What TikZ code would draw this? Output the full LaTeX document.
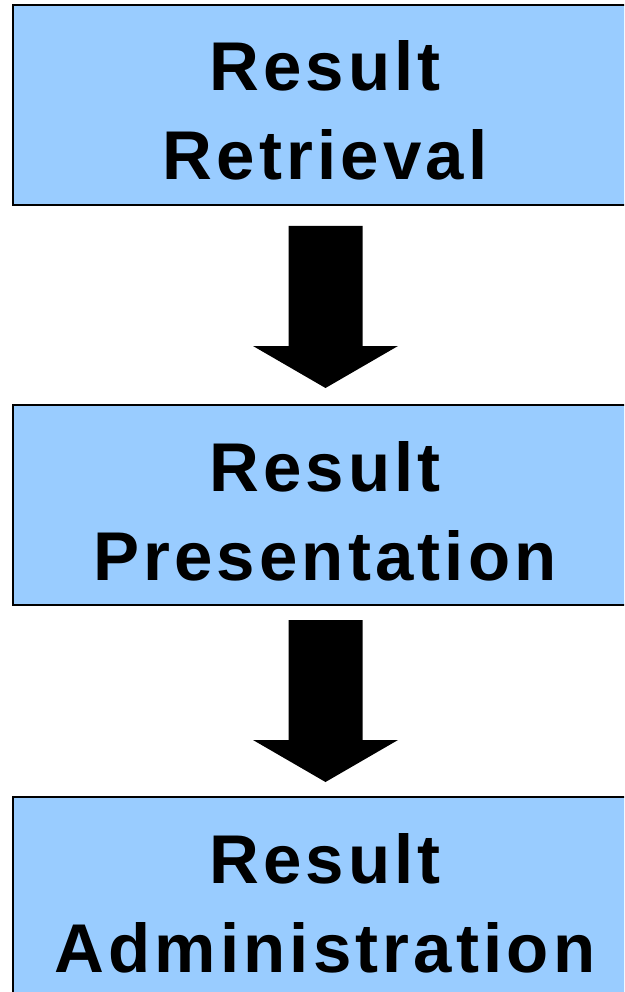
\documentclass[tikz,border=0pt]{standalone}
\usepackage{fontspec}
\setmainfont{Liberation Sans}
\newfontfamily\boxfont{Liberation Sans}[LetterSpace=6]
\usetikzlibrary{calc}
\definecolor{boxblue}{HTML}{99CCFF}
\tikzset{
  stagebox/.style={draw=black, line width=2pt, fill=boxblue, minimum width=624pt, minimum height=200pt, inner sep=0pt, outer sep=0pt},
  stagetext/.style={anchor=base, inner sep=0pt, font=\boxfont\bfseries\fontsize{69}{89}\selectfont},
  blockarrow/.style={fill=black, draw=none}
}
\newcommand{\twolines}[2]{\begin{tabular}[b]{@{}c@{}}#1\\#2\end{tabular}}
\begin{document}
\begin{tikzpicture}[x=1pt,y=-1pt]
\useasboundingbox (0,0) rectangle (624,992);
\clip (0,0) rectangle (624,992);
\node[stagebox] (b1) at (325,105) {};
\node[stagebox] (b2) at (325,505) {};
\node[stagebox] (b3) at (325,897) {};
\node[stagetext] (t1) at ($(b1.north)+(0,175)$) {\twolines{Result}{Retrieval}};
\node[stagetext] (t2) at ($(b2.north)+(0,175)$) {\twolines{Result}{Presentation}};
\node[stagetext] (t3) at ($(b3.north)+(0,175)$) {\twolines{Result}{Administration}};
% block arrows
\coordinate (a1) at (325.5,226);
\fill[blockarrow] ($(a1)+(-37,0)$) -- ($(a1)+(37,0)$) -- ($(a1)+(37,120)$) -- ($(a1)+(72.5,120)$) -- ($(a1)+(0,162)$) -- ($(a1)+(-72.5,120)$) -- ($(a1)+(-37,120)$) -- cycle;
\coordinate (a2) at (325.5,620);
\fill[blockarrow] ($(a2)+(-37,0)$) -- ($(a2)+(37,0)$) -- ($(a2)+(37,120)$) -- ($(a2)+(72.5,120)$) -- ($(a2)+(0,162)$) -- ($(a2)+(-72.5,120)$) -- ($(a2)+(-37,120)$) -- cycle;
\end{tikzpicture}
\end{document}
